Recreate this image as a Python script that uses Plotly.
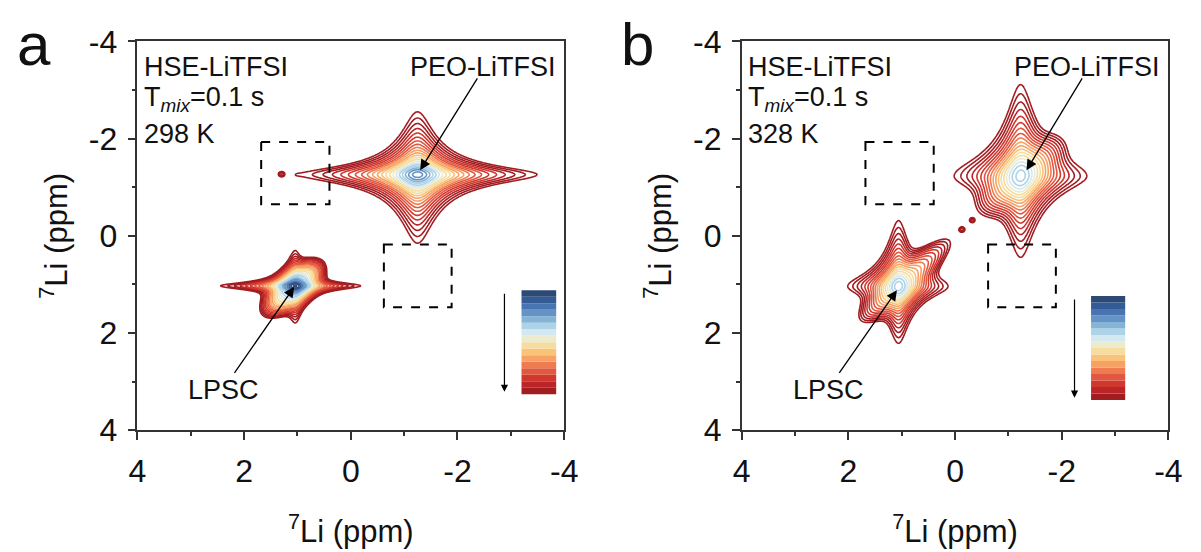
import numpy as np
import plotly.graph_objects as go

# ---------------------------------------------------------------------------
# 7Li-7Li 2D exchange spectra (HSE-LiTFSI, Tmix = 0.1 s) at 298 K and 328 K
# ---------------------------------------------------------------------------

# chemical-shift grid (ppm)
grid_step = 0.015
shift = np.round(np.arange(-4.0, 4.0 + grid_step / 2, grid_step), 4)

# contour levels (relative to the LPSC maximum at 298 K), geometric spacing
level_floor = 0.01
level_top = 1.25
n_levels = 25
# colour weighting of the levels (>1 keeps more low levels in the reds)
colour_gamma = 1.15

# --- 298 K: diagonal peaks -------------------------------------------------
peaks_298_x = [-1.25, 1.04]          # F2 centre (ppm)
peaks_298_y = [-1.26, 1.03]          # F1 centre (ppm)
peaks_298_amp = [0.62, 1.00]
# reach of the outermost contour from the centre: +F2, -F2, -F1, +F1 (ppm)
peaks_298_reach_px = [2.17, 1.40]
peaks_298_reach_nx = [2.24, 1.21]
peaks_298_reach_ny = [1.29, 0.72]
peaks_298_reach_py = [1.41, 0.76]
# ridge / core along F1 = F2 through each peak: amplitude, reach (+/-), cross width
ridge_298_amp = [0.0, 0.30]
ridge_298_reach_p = [0.0, 0.85]
ridge_298_reach_n = [0.0, 0.72]
ridge_298_width = [0.2, 0.14]
# isolated weak spots
spots_298_x = [1.30]
spots_298_y = [-1.27]
spots_298_amp = [0.0115]
spots_298_r = [0.035]

# --- 328 K: diagonal peaks -------------------------------------------------
peaks_328_x = [-1.23, 1.06]
peaks_328_y = [-1.23, 1.04]
peaks_328_amp = [0.27, 0.28]
peaks_328_reach_px = [1.24, 0.95]
peaks_328_reach_nx = [1.24, 0.92]
peaks_328_reach_ny = [1.88, 1.33]
peaks_328_reach_py = [1.65, 1.17]
ridge_328_amp = [0.07, 0.07]
ridge_328_reach_p = [0.95, 0.95]
ridge_328_reach_n = [0.95, 1.30]
ridge_328_width = [0.20, 0.15]
spots_328_x = [-0.13, -0.32]
spots_328_y = [-0.13, -0.32]
spots_328_amp = [0.0125, 0.0115]
spots_328_r = [0.045, 0.04]

# cross-peak regions (dashed boxes): x0, x1, y0, y1 in ppm
cross_boxes = [[1.68, 0.40, -1.93, -0.65], [-0.62, -1.89, 0.18, 1.47]]

# contour colour palette, lowest level first
palette = ["#a11d21", "#bb2527", "#d0382e", "#e2573f", "#ef7b51", "#f7a264",
           "#fbc37a", "#f6dd9e", "#ebebd0", "#d3e8f0", "#add3e6", "#86b4d6",
           "#6593c5", "#4874b1", "#355b96", "#2b4a76"]

# axis ticks
tick_vals = [4, 2, 0, -2, -4]
tick_text = ["4", "2", "0", "-2", "-4"]
minor_vals = [3, 1, -1, -3]

# labels and arrows: (tail x, tail y, head x, head y)
arrow_peo_298 = [-2.39, -3.27, -1.30, -1.35]
arrow_lpsc_298 = [2.20, 2.85, 1.06, 1.05]
arrow_peo_328 = [-2.40, -3.27, -1.34, -1.35]
arrow_lpsc_328 = [2.19, 2.85, 1.09, 1.12]
# colour-bar legends: x0, x1, y_top, y_bottom and level arrow x
legend_298 = [-3.85, -3.20, 1.12, 3.26, -2.88]
legend_328 = [-3.19, -2.55, 1.24, 3.38, -2.24]

FONT = "Liberation Sans, Arial, sans-serif"
INK = "#111111"
AXIS = "#333333"


def spectrum(px, py, amp, rpx, rnx, rny, rpy, ramp, rrp, rrn, rwid,
             sx, sy, samp, sr):
    X, Y = np.meshgrid(shift, shift)
    Z = np.zeros_like(X)
    for i in range(len(px)):
        k = np.sqrt(amp[i] / level_floor - 1.0)
        dx = X - px[i]
        dy = Y - py[i]
        wx = np.where(dx > 0, rpx[i] / k, rnx[i] / k)
        wy = np.where(dy < 0, rny[i] / k, rpy[i] / k)
        Z += amp[i] / ((1 + (dx / wx) ** 2) * (1 + (dy / wy) ** 2))
        if ramp[i] > 0:
            kr = np.sqrt(2 * np.log(ramp[i] / level_floor))
            s = (dx + dy) / np.sqrt(2)
            t = (dx - dy) / np.sqrt(2)
            ws = np.where(s > 0, rrp[i] / kr, rrn[i] / kr)
            Z += ramp[i] * np.exp(-0.5 * (s / ws) ** 2 - 0.5 * (t / rwid[i]) ** 2)
    for i in range(len(sx)):
        Z += samp[i] * np.exp(-((X - sx[i]) ** 2 + (Y - sy[i]) ** 2) / (2 * sr[i] ** 2))
    return np.round(np.log10(Z + 1e-6), 4)


z298 = spectrum(peaks_298_x, peaks_298_y, peaks_298_amp, peaks_298_reach_px,
                peaks_298_reach_nx, peaks_298_reach_ny, peaks_298_reach_py,
                ridge_298_amp, ridge_298_reach_p, ridge_298_reach_n, ridge_298_width,
                spots_298_x, spots_298_y, spots_298_amp, spots_298_r)
z328 = spectrum(peaks_328_x, peaks_328_y, peaks_328_amp, peaks_328_reach_px,
                peaks_328_reach_nx, peaks_328_reach_ny, peaks_328_reach_py,
                ridge_328_amp, ridge_328_reach_p, ridge_328_reach_n, ridge_328_width,
                spots_328_x, spots_328_y, spots_328_amp, spots_328_r)

lo = np.log10(level_floor)
hi = np.log10(level_top)
step = (hi - lo) / (n_levels - 1)

# discrete colour scale, band edges stretched by colour_gamma
n_col = len(palette)
cscale = []
for i, c in enumerate(palette):
    cscale.append([(i / n_col) ** (1 / colour_gamma), c])
    cscale.append([((i + 1) / n_col) ** (1 / colour_gamma), c])

fig = go.Figure()
for z, xa, ya in [(z298, "x", "y"), (z328, "x2", "y2")]:
    fig.add_trace(go.Contour(
        x=shift, y=shift, z=z, xaxis=xa, yaxis=ya,
        contours=dict(start=lo, end=hi + step * 0.01, size=step, coloring="lines"),
        colorscale=cscale, zmin=lo, zmax=hi, zauto=False,
        line=dict(width=1.6), showscale=False, hoverinfo="skip",
    ))

axis_style = dict(
    range=[4, -4], tickmode="array", tickvals=tick_vals, ticktext=tick_text,
    ticks="outside", ticklen=8, tickwidth=1.5, tickcolor=AXIS,
    showline=True, linecolor=AXIS, linewidth=1.5, mirror=True,
    showgrid=False, zeroline=False,
    tickfont=dict(family=FONT, size=32, color=INK),
    minor=dict(tickvals=minor_vals, ticks="outside", ticklen=4,
               tickwidth=1.5, tickcolor=AXIS),
)
title_font = dict(family=FONT, size=31, color=INK)
title_txt = "<sup>7</sup>Li (ppm)"
fig.update_layout(
    width=1201, height=552,
    margin=dict(l=0, r=0, t=0, b=0),
    paper_bgcolor="white", plot_bgcolor="white",
    showlegend=False,
    xaxis=dict(axis_style, domain=[0.1090, 0.4713], anchor="y", ticklabelstandoff=4,
               title=dict(text=title_txt, font=title_font, standoff=32)),
    yaxis=dict(axis_style, domain=[0.2011, 0.9547], anchor="x", ticklabelstandoff=4,
               title=dict(text=title_txt, font=title_font, standoff=12)),
    xaxis2=dict(axis_style, domain=[0.6220, 0.9842], anchor="y2", ticklabelstandoff=4,
                title=dict(text=title_txt, font=title_font, standoff=32)),
    yaxis2=dict(axis_style, domain=[0.2011, 0.9547], anchor="x2", ticklabelstandoff=4,
                title=dict(text=title_txt, font=title_font, standoff=12)),
)

shapes = []
annotations = []
for xr, yr, temp, arr_peo, arr_lpsc, leg, letter, lx in [
        ("x", "y", "298 K", arrow_peo_298, arrow_lpsc_298, legend_298, "a", 0.0215),
        ("x2", "y2", "328 K", arrow_peo_328, arrow_lpsc_328, legend_328, "b", 0.5337)]:
    # dashed cross-peak regions
    for b in cross_boxes:
        shapes.append(dict(type="rect", xref=xr, yref=yr, x0=b[0], x1=b[1], y0=b[2], y1=b[3],
                           line=dict(color="black", width=2, dash="dash")))
    # colour bar legend
    x0, x1, yt, yb, ax_x = leg
    h = (yb - yt) / n_col
    for i, c in enumerate(palette):
        shapes.append(dict(type="rect", xref=xr, yref=yr, x0=x0, x1=x1,
                           y0=yb - i * h, y1=yb - (i + 1) * h,
                           fillcolor=c, line=dict(width=0), layer="above"))
    annotations.append(dict(xref=xr, yref=yr, axref=xr, ayref=yr,
                            x=ax_x, y=yb - 0.05, ax=ax_x, ay=yt + 0.04, text="",
                            showarrow=True, arrowhead=2, arrowsize=1.2, arrowwidth=1.2,
                            arrowcolor="black"))
    # peak arrows
    for a in (arr_peo, arr_lpsc):
        annotations.append(dict(xref=xr, yref=yr, axref=xr, ayref=yr,
                                x=a[2], y=a[3], ax=a[0], ay=a[1], text="",
                                showarrow=True, arrowhead=2, arrowsize=1.6, arrowwidth=1.3,
                                arrowcolor="black"))
    dom_x = xr + " domain"
    dom_y = yr + " domain"
    txt_font = dict(family=FONT, size=27, color=INK)
    for txt, yy in [("HSE-LiTFSI", 0.935), ("T<sub><i>mix</i></sub>=0.1 s", 0.853), (temp, 0.762)]:
        annotations.append(dict(xref=dom_x, yref=dom_y, x=0.01, y=yy, text=txt,
                                xanchor="left", yanchor="middle", showarrow=False, font=txt_font))
    annotations.append(dict(xref=dom_x, yref=dom_y, x=0.985, y=0.935, text="PEO-LiTFSI",
                            xanchor="right", yanchor="middle", showarrow=False, font=txt_font))
    annotations.append(dict(xref=xr, yref=yr, x=2.38, y=3.17, text="LPSC",
                            xanchor="center", yanchor="middle", showarrow=False, font=txt_font))
    annotations.append(dict(xref="paper", yref="paper", x=lx, y=0.948, text=letter,
                            xanchor="center", yanchor="middle", showarrow=False,
                            font=dict(family=FONT, size=60, color=INK)))

fig.update_layout(shapes=shapes, annotations=annotations)
fig.write_html("out.html")
